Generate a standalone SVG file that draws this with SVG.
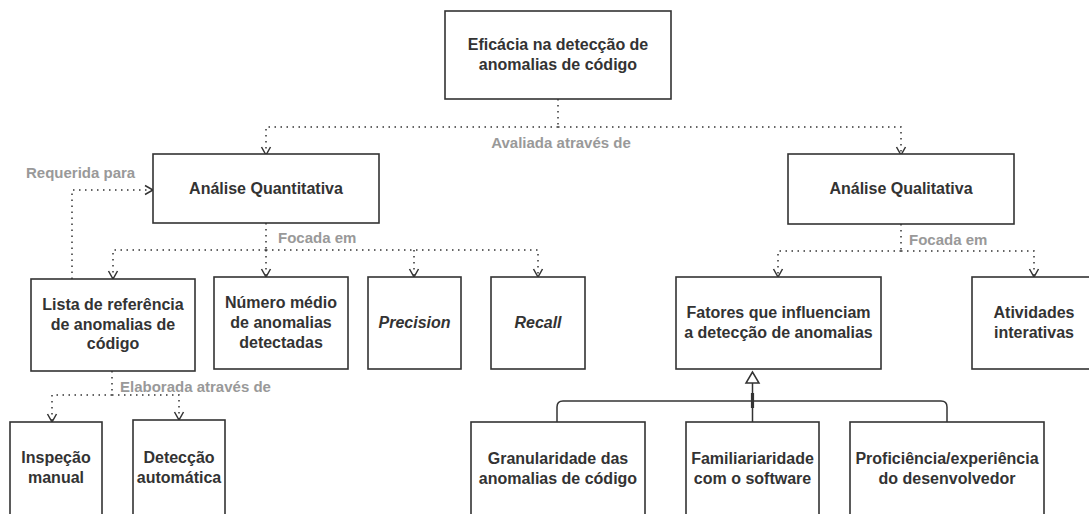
<svg xmlns="http://www.w3.org/2000/svg" width="1089" height="514" viewBox="0 0 1089 514">
<defs>
<style>
.box{fill:#fff;stroke:#333;stroke-width:1.6}
.t{font-family:"Liberation Sans",Arial,sans-serif;font-size:16px;font-weight:bold;fill:#333;text-anchor:middle}
.i{font-style:italic}
.lbl{font-family:"Liberation Sans",Arial,sans-serif;font-size:15px;font-weight:bold;fill:#999}
.dot{fill:none;stroke:#333;stroke-width:1.5;stroke-dasharray:1.5 4.5}
.solid{fill:none;stroke:#333;stroke-width:1.5}
</style>
<marker id="v" viewBox="-10 -6 12 12" markerWidth="12" markerHeight="12" refX="0" refY="0" orient="auto" markerUnits="userSpaceOnUse">
<path d="M-8,-4.5 L0,0 L-8,4.5" fill="none" stroke="#333" stroke-width="1.5"/>
</marker>
</defs>
<rect width="1089" height="514" fill="#fff"/>
<g id="connectors">
<path class="dot" d="M558 99 V127"/>
<path class="dot" d="M558 127 H266 V155" marker-end="url(#v)"/>
<path class="dot" d="M558 127 H901 V155" marker-end="url(#v)"/>
<path class="dot" d="M72 279 V190 H153" marker-end="url(#v)"/>
<path class="dot" d="M266 223 V250"/>
<path class="dot" d="M266 250 H113 V279" marker-end="url(#v)"/>
<path class="dot" d="M266 250 V277" marker-end="url(#v)"/>
<path class="dot" d="M266 250 H538 V277" marker-end="url(#v)"/>
<path class="dot" d="M414 250 V277" marker-end="url(#v)"/>
<path class="dot" d="M112 371 V395"/>
<path class="dot" d="M112 395 H52 V422" marker-end="url(#v)"/>
<path class="dot" d="M112 395 H179 V420" marker-end="url(#v)"/>
<path class="dot" d="M901 224 V251"/>
<path class="dot" d="M901 251 H778 V277" marker-end="url(#v)"/>
<path class="dot" d="M901 251 H1034 V277" marker-end="url(#v)"/>
<path class="solid" d="M752.5 422 V383"/>
<path class="solid" d="M557 422 V407 Q557 401 563 401 H941 Q947 401 947 407 V422"/>
<path d="M752.5 393 V408" stroke="#333" stroke-width="3.2" fill="none"/>
<path d="M752.5 372 L746 383 H759 Z" fill="#fff" stroke="#333" stroke-width="1.5"/>
<text class="lbl" x="561" y="148" text-anchor="middle">Avaliada através de</text>
<text class="lbl" x="26" y="178">Requerida para</text>
<text class="lbl" x="278" y="243">Focada em</text>
<text class="lbl" x="909" y="245">Focada em</text>
<text class="lbl" x="120" y="392">Elaborada através de</text>
</g>
<g id="n-eficacia">
<rect class="box" x="445" y="11" width="226" height="88"/>
<text class="t" x="558" y="50">Eficácia na detecção de</text>
<text class="t" x="558" y="70">anomalias de código</text>
</g>
<g id="n-quant">
<rect class="box" x="153" y="154" width="226" height="69"/>
<text class="t" x="266" y="194">Análise Quantitativa</text>
</g>
<g id="n-qual">
<rect class="box" x="788" y="154" width="226" height="70"/>
<text class="t" x="901" y="194">Análise Qualitativa</text>
</g>
<g id="n-lista">
<rect class="box" x="31" y="279" width="164" height="92"/>
<text class="t" x="113" y="310">Lista de referência</text>
<text class="t" x="113" y="330">de anomalias de</text>
<text class="t" x="113" y="349">código</text>
</g>
<g id="n-numero">
<rect class="box" x="214" y="277" width="134" height="92"/>
<text class="t" x="281" y="308">Número médio</text>
<text class="t" x="281" y="328">de anomalias</text>
<text class="t" x="281" y="348">detectadas</text>
</g>
<g id="n-precision">
<rect class="box" x="368" y="277" width="93" height="92"/>
<text class="t i" x="414.5" y="328">Precision</text>
</g>
<g id="n-recall">
<rect class="box" x="491" y="277" width="94" height="92"/>
<text class="t i" x="538" y="328">Recall</text>
</g>
<g id="n-inspecao">
<rect class="box" x="10" y="422" width="92" height="110"/>
<text class="t" x="56" y="463">Inspeção</text>
<text class="t" x="56" y="483">manual</text>
</g>
<g id="n-deteccao">
<rect class="box" x="133" y="420" width="92" height="110"/>
<text class="t" x="179" y="463">Detecção</text>
<text class="t" x="179" y="483">automática</text>
</g>
<g id="n-fatores">
<rect class="box" x="676" y="277" width="205" height="92"/>
<text class="t" x="778.5" y="318">Fatores que influenciam</text>
<text class="t" x="778.5" y="338">a detecção de anomalias</text>
</g>
<g id="n-atividades">
<rect class="box" x="972" y="277" width="124" height="92"/>
<text class="t" x="1034" y="318">Atividades</text>
<text class="t" x="1034" y="338">interativas</text>
</g>
<g id="n-granularidade">
<rect class="box" x="471" y="422" width="174" height="110"/>
<text class="t" x="558" y="464">Granularidade das</text>
<text class="t" x="558" y="484">anomalias de código</text>
</g>
<g id="n-familiaridade">
<rect class="box" x="686" y="422" width="133" height="110"/>
<text class="t" x="752.5" y="464">Familiariaridade</text>
<text class="t" x="752.5" y="484">com o software</text>
</g>
<g id="n-proficiencia">
<rect class="box" x="850" y="422" width="194" height="110"/>
<text class="t" x="947" y="464">Proficiência/experiência</text>
<text class="t" x="947" y="484">do desenvolvedor</text>
</g>
</svg>
